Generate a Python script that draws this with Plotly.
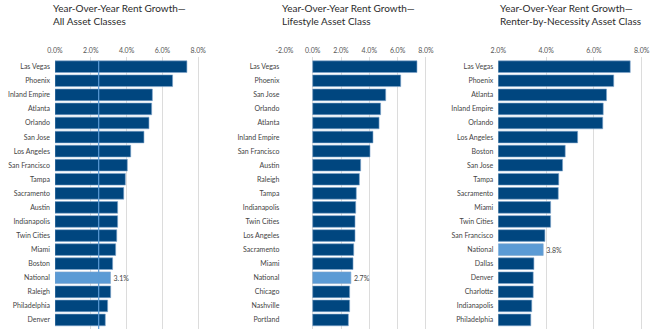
import plotly.graph_objects as go

W, H = 651, 329

cities_all = ["Las Vegas", "Phoenix", "Inland Empire", "Atlanta", "Orlando", "San Jose",
              "Los Angeles", "San Francisco", "Tampa", "Sacramento", "Austin", "Indianapolis",
              "Twin Cities", "Miami", "Boston", "National", "Raleigh", "Philadelphia", "Denver"]
values_all = [7.37, 6.57, 5.44, 5.40, 5.25, 4.97, 4.23, 4.04, 3.93, 3.84, 3.50, 3.50,
              3.45, 3.39, 3.22, 3.10, 3.11, 2.94, 2.81]

cities_life = ["Las Vegas", "Phoenix", "San Jose", "Orlando", "Atlanta", "Inland Empire",
               "San Francisco", "Austin", "Raleigh", "Tampa", "Indianapolis", "Twin Cities",
               "Los Angeles", "Sacramento", "Miami", "National", "Chicago", "Nashville", "Portland"]
values_life = [7.37, 6.22, 5.16, 4.80, 4.69, 4.26, 4.05, 3.39, 3.30, 3.08, 3.04, 2.99,
               2.99, 2.90, 2.85, 2.70, 2.61, 2.61, 2.52]

cities_rbn = ["Las Vegas", "Phoenix", "Atlanta", "Inland Empire", "Orlando", "Los Angeles",
              "Boston", "San Jose", "Tampa", "Sacramento", "Miami", "Twin Cities",
              "San Francisco", "National", "Dallas", "Denver", "Charlotte", "Indianapolis",
              "Philadelphia"]
values_rbn = [7.52, 6.83, 6.53, 6.39, 6.37, 5.32, 4.80, 4.69, 4.53, 4.51, 4.19, 4.19,
              3.95, 3.88, 3.49, 3.46, 3.46, 3.40, 3.36]

national_labels = ["3.1%", "2.7%", "3.8%"]
titles = ["Year-Over-Year Rent Growth—<br>All Asset Classes",
          "Year-Over-Year Rent Growth—<br>Lifestyle Asset Class",
          "Year-Over-Year Rent Growth—<br>Renter-by-Necessity Asset Class"]
tick_vals = [[0, 2, 4, 6, 8], [-2, 0, 2, 4, 6, 8], [2, 4, 6, 8]]
ref_line_all = 2.44

DARK = "#00467f"
LIGHT = "#5b9bd5"
FONT = "Lato"

panels = [
    (cities_all, values_all, [0, 8.38], (55, 205)),
    (cities_life, values_life, [-2.0, 8.29], (284.4, 430)),
    (cities_rbn, values_rbn, [2.0, 8.39], (498.3, 651)),
]

fig = go.Figure()

top_px = 57
first_center = 66.7
step = 14.07
y_top = -(first_center - top_px) / step
y_bot = (H - first_center) / step
ydom = [0, (H - top_px) / H]

for i, (cats, vals, xr, (x0, x1)) in enumerate(panels):
    n = i + 1
    xa = "x" if n == 1 else f"x{n}"
    ya = "y" if n == 1 else f"y{n}"
    colors = [LIGHT if c == "National" else DARK for c in cats]
    texts = [national_labels[i] if c == "National" else "" for c in cats]
    fig.add_trace(go.Bar(
        y=cats, x=vals, orientation="h", xaxis=xa, yaxis=ya,
        marker=dict(color=colors, line=dict(color="#7fa6cc", width=0.6)),
        text=texts, textposition="outside", cliponaxis=False,
        textfont=dict(size=7, color="#444", family=FONT),
        hoverinfo="skip", showlegend=False,
    ))
    axkey = "xaxis" if n == 1 else f"xaxis{n}"
    aykey = "yaxis" if n == 1 else f"yaxis{n}"
    fig.layout[axkey] = dict(
        domain=[x0 / W, x1 / W], range=xr, side="top", anchor=ya,
        tickvals=tick_vals[i], ticktext=[f"{v:.1f}%" for v in tick_vals[i]],
        tickfont=dict(size=7, color="#555", family=FONT),
        showgrid=True, gridcolor="#dcdcdc", gridwidth=1, zeroline=False,
        showline=False, ticks="", fixedrange=True, automargin=False,
        ticklabelstandoff=2,
    )
    fig.layout[aykey] = dict(
        domain=ydom, range=[y_bot, y_top], anchor=xa,
        type="category", categoryorder="array", categoryarray=cats,
        tickfont=dict(size=7, color="#444", family=FONT),
        showgrid=False, zeroline=False, showline=False, ticks="",
        ticklabelstandoff=4, fixedrange=True, automargin=False,
    )
    fig.add_annotation(
        xref="paper", yref="paper", x=[51, 280, 498][i] / W, y=1.0,
        xanchor="left", yanchor="top", align="left", showarrow=False,
        text=titles[i], font=dict(size=10, color="#2b2b2b", family=FONT),
    )

fig.add_shape(type="line", xref="x", yref="y", x0=ref_line_all, x1=ref_line_all,
              y0=-0.42, y1=y_bot, line=dict(color=LIGHT, width=1.2), layer="above")

fig.update_layout(
    width=W, height=H, margin=dict(l=0, r=0, t=0, b=0, autoexpand=False),
    paper_bgcolor="white", plot_bgcolor="white", bargap=0.17,
    template="none",
)

fig.write_html("out.html")
